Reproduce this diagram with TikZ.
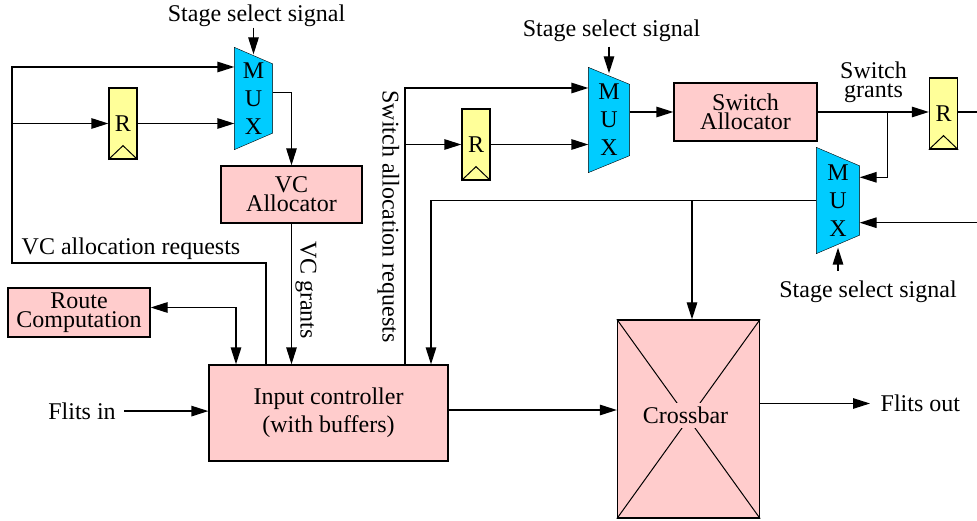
\documentclass[tikz,border=0pt]{standalone}
\usepackage{fontspec}
\setmainfont{Liberation Serif}
\usetikzlibrary{arrows.meta,calc,backgrounds}

\definecolor{boxpink}{RGB}{255,204,204}
\definecolor{muxcyan}{RGB}{0,204,255}
\definecolor{regyellow}{RGB}{255,255,153}

\tikzset{
  unit/.style={draw, fill=boxpink, inner sep=0pt, align=center},
  reg/.style={draw, fill=regyellow, inner sep=0pt, minimum width=28pt, minimum height=71pt},
  muxbody/.style={inner sep=0pt, align=center, font=\fontsize{24}{28}\selectfont},
  lbl/.style={inner sep=0pt, align=center},
}

\begin{document}
\begin{tikzpicture}[x=1pt, y=-1pt, >={Triangle[length=17pt,width=10.5pt]}, line width=1.3pt,
  font=\fontsize{24}{19}\selectfont]

  \useasboundingbox (0,0) rectangle (977,521);

  % Allocators, route computation and input controller
  \node[unit, minimum width=141pt, minimum height=57pt] (vcalloc) at (291.5,194.5) {VC\\Allocator};
  \node[unit, minimum width=143pt, minimum height=58pt] (swalloc) at (745.5,112) {Switch\\Allocator};
  \node[unit, minimum width=142pt, minimum height=49pt] (route) at (79,312.5) {Route\\Computation};
  \node[unit, minimum width=239pt, minimum height=96pt, font=\fontsize{24}{28}\selectfont]
    (inctrl) at (328.5,413) {Input controller\\(with buffers)};

  % Pipeline registers
  \node[reg] (reg1) at (123,123.5) {R};
  \node[reg] (reg2) at (476,144.5) {R};
  \node[reg] (reg3) at (943.5,113.5) {R};
  \foreach \r in {reg1,reg2,reg3}
    \draw[line width=1pt] (\r.south west) -- ($(\r.south)+(0,-14)$) -- (\r.south east);

  % Multiplexers (body drawn behind the letters)
  \node[muxbody, minimum width=37pt, minimum height=101pt] (mux1) at (253.5,98.5) {M\\U\\X};
  \node[muxbody, minimum width=40pt, minimum height=104pt] (mux2) at (609,120) {M\\U\\X};
  \node[muxbody, minimum width=42pt, minimum height=105pt] (mux3) at (838,200.5) {M\\U\\X};
  \begin{scope}[on background layer]
    \foreach \m/\s in {mux1/16.5, mux2/17, mux3/18.5}
      \draw[fill=muxcyan] (\m.north west) -- ($(\m.north east)+(0,\s)$)
        -- ($(\m.south east)+(0,-\s)$) -- (\m.south west) -- cycle;
  \end{scope}

  % Crossbar
  \node[unit, minimum width=142pt, minimum height=198pt] (xbar) at (688.5,419) {};
  \draw[line width=1pt] (xbar.north west) -- (xbar.south east) (xbar.north east) -- (xbar.south west);
  \node[fill=boxpink, inner sep=4pt, anchor=base] (xbarlbl) at (685.5,423.3) {Crossbar};

  % Labels
  \node[lbl, anchor=base] (sel1) at (256.5,21.7) {Stage select signal};
  \node[lbl, anchor=base] (sel2) at (611.5,36.7) {Stage select signal};
  \node[lbl, anchor=base] (sel3) at (868,298) {Stage select signal};
  \node[lbl, anchor=base] (vcreqlbl) at (131,255) {VC allocation requests};
  \node[lbl, rotate=-90] (vcgrlbl) at (306,290) {VC grants};
  \node[lbl, rotate=-90] (swreqlbl) at (388.5,216.5) {Switch allocation requests};
  \node[lbl] (sgrlbl) at (873.5,82.7) {Switch\\grants};
  \node[lbl, anchor=base] (flin) at (82,419.3) {Flits in};
  \node[lbl, anchor=base west] (flout) at (880,411.7) {Flits out};

  % Stage select inputs
  \draw[->] (sel1.south -| mux1.north) -- ([yshift=-7pt]mux1.north);
  \draw[->] ([yshift=-4pt]sel2.south -| mux2.north) -- ([yshift=-6pt]mux2.north);
  \draw[->] ([yshift=10pt]sel3.north -| mux3.south) -- ([yshift=6pt]mux3.south);

  % VC allocation path
  \coordinate (vcreq) at (266,263);
  \coordinate (loopl) at (12,263);
  \draw[->] (vcreq |- inctrl.north) -- (vcreq) -- (loopl) |- ([yshift=31.5pt]mux1.west);
  \draw[->] (loopl |- reg1) -- (reg1.west);
  \draw[->] (reg1.east) -- (reg1 -| mux1.west);
  \draw[->] ([yshift=6pt]mux1.east) -| (vcalloc.north);
  \draw[->] (vcalloc.south) -- (vcalloc.south |- inctrl.north);

  % Switch allocation path
  \coordinate (swreq) at (405,88);
  \draw[->] (swreq |- inctrl.north) -- (swreq) -- (swreq -| mux2.west);
  \draw[->] (swreq |- reg2) -- (reg2.west);
  \draw[->] (reg2.east) -- (reg2 -| mux2.west);
  \draw[->] (mux2.east |- swalloc) -- (swalloc.west);

  % Switch grants
  \coordinate (sgtap) at (887.3,112);
  \coordinate (rout) at (977,112);
  \coordinate (rin) at (977,222.7);
  \draw[->] (swalloc.east) -- (swalloc -| reg3.west);
  \draw (swalloc -| reg3.east) -- (rout);
  \draw[->] (sgtap) |- ([yshift=23.2pt]mux3.east);
  \draw[->] (rin) -- ([yshift=-22.2pt]mux3.east);

  % MUX output to crossbar and input controller
  \coordinate (fbk) at (431,200.5);
  \coordinate (xtap) at (692,200.5);
  \draw[->] (mux3.west) -- (fbk) -- (fbk |- inctrl.north);
  \draw[->] (xtap) -- (xtap |- xbar.north);

  % Route computation
  \coordinate (rtap) at (236,307.5);
  \draw[<->] (rtap -| route.east) -- (rtap) -- (rtap |- inctrl.north);

  % Datapath
  \draw[->] ([xshift=8pt]flin.east) -- (flin.east -| inctrl.west);
  \draw[->] ([yshift=3pt]inctrl.east) -- ([yshift=3pt]inctrl.east -| xbar.west);
  \draw[->] (flout.west -| xbar.east) -- ([xshift=-10pt]flout.west);

\end{tikzpicture}
\end{document}
